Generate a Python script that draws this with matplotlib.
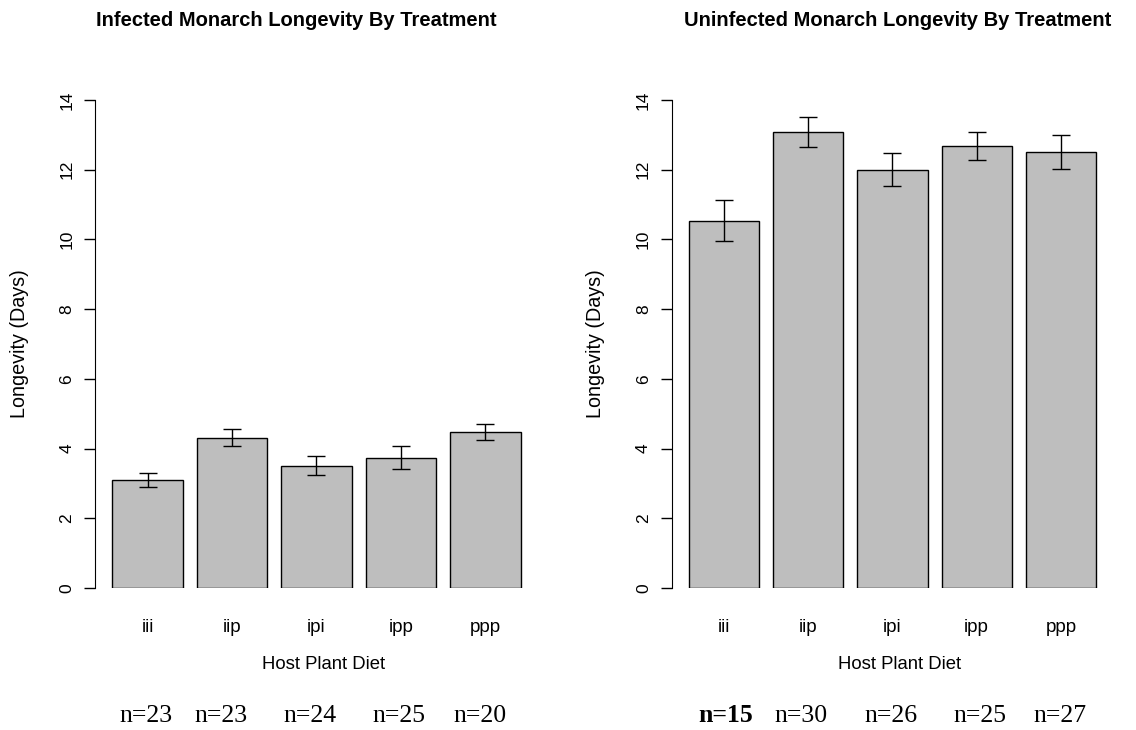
import numpy as np
import matplotlib
matplotlib.use("Agg")
import matplotlib.pyplot as plt
import matplotlib.transforms as mtransforms

# Treatments (host plant diet sequence)
diets = ["iii", "iip", "ipi", "ipp", "ppp"]

# Mean longevity (days) and standard errors
infected_mean = [3.10, 4.31, 3.51, 3.73, 4.48]
infected_se = [0.21, 0.24, 0.27, 0.33, 0.22]
uninfected_mean = [10.54, 13.07, 12.00, 12.68, 12.51]
uninfected_se = [0.58, 0.43, 0.48, 0.39, 0.49]

# Sample sizes printed under each panel
infected_n = ["n=23", "n=23", "n=24", "n=25", "n=20"]
uninfected_n = ["n=15", "n=30", "n=26", "n=25", "n=27"]

yticks = [0, 2, 4, 6, 8, 10, 12, 14]

# where the n= labels sit along the x axis (bar units)
infected_n_x = [0.68, 1.74, 3.01, 4.27, 5.42]
uninfected_n_x = [0.73, 1.80, 3.08, 4.34, 5.49]
uninfected_n_bold = [True, False, False, False, False]

SANS = ["Liberation Sans", "DejaVu Sans"]
SERIF = ["Liberation Serif", "DejaVu Serif"]


def draw_panel(ax, title, title_x, means, ses, n_labels, n_x, n_bold):
    """
    R-style barplot: width 1, space 0.2, grey fill, error bars
    """
    x = 0.2 + np.arange(len(means)) * 1.2 + 0.5
    ax.bar(x, means, width=1.0, color="#bebebe", edgecolor="black", linewidth=1.0)
    ax.errorbar(x, means, yerr=ses, fmt="none", ecolor="black",
                elinewidth=1.0, capsize=6.4, capthick=1.0)

    ax.set_xlim(-0.04, 6.44)
    ax.set_ylim(0, 14)
    for side in ["top", "right", "bottom"]:
        ax.spines[side].set_visible(False)
    ax.spines["left"].set_bounds(0, 14)

    ax.set_yticks(yticks)
    ax.set_yticklabels([str(t) for t in yticks], rotation=90, va="center",
                       family=SANS, fontsize=12.5)
    ax.tick_params(axis="y", length=8, width=1.0, pad=7)

    ax.set_xticks(x)
    ax.set_xticklabels(diets, family=SANS, fontsize=13.5)
    ax.tick_params(axis="x", length=0, pad=22)

    ax.set_ylabel("Longevity (Days)", family=SANS, fontsize=14.2, va="center")
    ax.yaxis.set_label_coords(-0.167, 0.5)
    ax.set_xlabel("Host Plant Diet", family=SANS, fontsize=13.3, va="center")
    ax.xaxis.set_label_coords(0.5, -0.156)

    ax.text(title_x, 1.162, title, transform=ax.transAxes, ha="center",
            va="center", family=SANS, fontweight="bold", fontsize=14.5)

    # sample sizes under the axis
    trans = mtransforms.blended_transform_factory(ax.transData, ax.transAxes)
    for lab, xp, bold in zip(n_labels, n_x, n_bold):
        ax.text(xp, -0.262, lab, transform=trans, ha="center", va="center",
                family=SERIF, fontsize=18.5,
                fontweight="bold" if bold else "normal", clip_on=False)


fig = plt.figure(figsize=(11.36, 7.30), dpi=100)
ax1 = fig.add_axes([0.0840, 0.1945, 0.4016, 0.6685])
ax2 = fig.add_axes([0.5915, 0.1945, 0.4005, 0.6685])

draw_panel(ax1, "Infected Monarch Longevity By Treatment", 0.44,
           infected_mean, infected_se, infected_n, infected_n_x,
           [False] * len(infected_n))
draw_panel(ax2, "Uninfected Monarch Longevity By Treatment", 0.495,
           uninfected_mean, uninfected_se, uninfected_n, uninfected_n_x,
           uninfected_n_bold)

fig.savefig("out.png", dpi=100)
